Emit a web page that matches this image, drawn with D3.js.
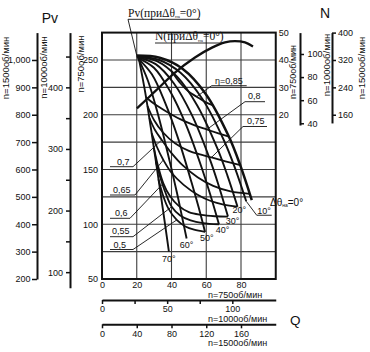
<!DOCTYPE html>
<html>
<head>
<meta charset="utf-8">
<script src="https://cdn.jsdelivr.net/npm/d3@7"></script>
<style>
  body { margin: 0; background: #fff; }
  svg { display: block; }
</style>
</head>
<body>
<div id="chart"></div>
<script>
// ---- data (Q, Pv and N read for n = 750 об/мин) ----
const qTicks750 = [0, 20, 40, 60, 80];
const qTicks1000 = [0, 25, 50, 75, 100];
const qLabels1000 = [0, 50, 100];
const qTicks1500 = [0, 40, 80, 120, 160];
const pvTicks750 = [50, 100, 150, 200, 250];
const pvTicks1000 = [100, 150, 200, 250, 300, 350, 400, 450];
const pvLabels1000 = [100, 200, 300, 400];
const pvTicks1500 = [200, 300, 400, 500, 600, 700, 800, 900, 1000];
const nTicks750 = [20, 30, 40, 50];
const nTicks1000 = [40, 60, 80, 100];
const nTicks1500 = [160, 240, 320, 400];
const gridQ = [20, 40, 60, 80];
const gridPv = [75, 100, 125, 150, 175, 200, 225, 250];

// pressure curves [Q, Pv] for guide vane angles
const angles = [0, 10, 20, 30, 40, 50, 60, 70];
const pv0 = [[20, 254], [33.2, 252], [46.5, 241.8], [59.7, 219], [73, 180.1], [79.6, 153.7], [86.2, 122]];
const pv10 = [[20, 253.5], [32.6, 250.2], [45.2, 238.3], [57.8, 214.3], [70.4, 175.8], [76.7, 150.6], [83, 121]];
const pv20 = [[20, 253], [31.6, 249], [43.2, 234.8], [54.8, 208.5], [66.4, 169.2], [72.2, 144.4], [78, 116]];
const pv30 = [[20.3, 252.5], [30.9, 246.2], [41.3, 228.8], [51.7, 199.8], [62.1, 159.2], [67.3, 134.5], [72.5, 107]];
const pv40 = [[20.5, 252], [29.9, 242.9], [39.2, 221.4], [48.6, 189.8], [57.9, 149.1], [62.6, 125.5], [67.3, 100]];
const pv50 = [[20.7, 251.5], [28.7, 236.9], [36.3, 211], [44, 177.5], [51.6, 137.9], [55.5, 116.1], [59.3, 93]];
const pv60 = [[21, 251], [26.5, 230.8], [32.1, 201.1], [37.6, 166.5], [43.2, 128.3], [45.9, 108], [48.7, 87]];
const pv70 = [[21.3, 250.5], [24.9, 220.2], [28.3, 186.1], [31.7, 150.2], [35.1, 113.1], [36.8, 94.1], [38.5, 75]];
const pvCurves = [pv0, pv10, pv20, pv30, pv40, pv50, pv60, pv70];

// power curve [Q, N] at Δθ = 0°
const nCurve = [[20.1, 22.3], [30.5, 28.5], [42, 35.4], [53.5, 40.9], [63.3, 44.5], [70.8, 46.4], [76.5, 46.9], [82.3, 46.4], [86.9, 44.9]];

// efficiency contours [Q, Pv]
const eta085 = [[40, 240], [45, 229], [50, 221], [54.5, 216.5], [59, 212], [64, 208.4]];
const eta080 = [[25.3, 216], [30, 210], [37, 203], [45, 196], [53, 190.5], [60.3, 186.5], [67, 183], [73, 180]];
const eta075 = [[26.2, 208], [30, 195], [35, 184], [42, 174], [50, 167], [57, 163.5], [63, 161], [71, 157.5], [79.6, 154]];
const eta070 = [[27.3, 197], [30.5, 186], [34.4, 177], [40, 165], [47, 153], [55, 143], [64, 135], [74, 130], [85, 127.8]];
const eta065 = [[28.6, 183], [31.5, 171], [35.3, 158.7], [40, 147], [47, 136], [55, 127], [63, 121], [70, 118], [78, 116]];
const eta060 = [[29.8, 170], [32.3, 153], [35.3, 137.4], [39, 126], [44, 117], [50, 111], [57, 108.5], [65, 107.3], [72.5, 107]];
const eta055 = [[31, 157], [33.5, 143], [36.5, 129], [40.1, 116], [45, 108], [51, 103.5], [58, 101], [67.3, 100]];
const eta050 = [[32.5, 141], [35, 127], [38, 115], [43, 103.9], [48, 98], [53, 95], [59.3, 93]];
const etaCurves = [eta085, eta080, eta075, eta070, eta065, eta060, eta055, eta050];

// ---- layout ----
const W = 370, H = 352;
const FONT = "'Liberation Sans', Arial, sans-serif";
const SERIF = "'Liberation Serif', 'Times New Roman', serif";
const box = { x0: 102, x1: 275.75, y0: 32.6, y1: 279 };
const k = 1000 / 750;

const x = d3.scaleLinear().domain([0, 100]).range([box.x0, box.x1]);
const y = d3.scaleLinear().domain([50, 275]).range([box.y1, box.y0]);
const yN = d3.scaleLinear().domain([0, 50]).range([y(150), y(275)]);

// other speeds: Q ~ n, Pv ~ n^2, N ~ n^3
const q1000 = d3.scaleLinear().domain([0, 100 * k]).range([box.x0, box.x1]);
const q1500 = d3.scaleLinear().domain([0, 200]).range([box.x0, box.x1]);
const pv1000 = d3.scaleLinear().domain([42 * k * k, 275 * k * k]).range([y(42), y(275)]);
const pv1500 = d3.scaleLinear().domain([200, 1100]).range([y(50), y(275)]);
const n1000 = d3.scaleLinear().domain([16.25 * k * k * k, 50 * k * k * k]).range([yN(16.25), yN(50)]);
const n1500 = d3.scaleLinear().domain([136, 400]).range([yN(17), yN(50)]);

const svg = d3.select("#chart").append("svg")
  .attr("width", W).attr("height", H)
  .style("background", "#fff");

// grid and frame
const grid = svg.append("g").attr("stroke", "#3c3c3c").attr("stroke-width", 1.1);
grid.selectAll(".gv").data(gridQ).enter().append("line")
  .attr("x1", d => x(d)).attr("x2", d => x(d))
  .attr("y1", box.y0).attr("y2", box.y1);
grid.selectAll(".gh").data(gridPv).enter().append("line")
  .attr("x1", box.x0).attr("x2", box.x1)
  .attr("y1", d => y(d)).attr("y2", d => y(d));

svg.append("rect")
  .attr("x", box.x0).attr("y", box.y0)
  .attr("width", box.x1 - box.x0).attr("height", box.y1 - box.y0)
  .attr("fill", "none").attr("stroke", "#111").attr("stroke-width", 2);

// axes helper
function styleAxis(g, hideDomain) {
  g.attr("font-family", FONT).attr("font-size", 9);
  g.selectAll("text").attr("fill", "#111");
  g.selectAll(".tick line").attr("stroke", "#111").attr("stroke-width", 1.5);
  if (hideDomain) g.select(".domain").remove();
  else g.select(".domain").attr("stroke", "#111").attr("stroke-width", 2);
}

// left Pv axes
svg.append("g").attr("transform", "translate(37,0)")
  .call(d3.axisLeft(pv1500).tickValues(pvTicks1500).tickSize(5).tickSizeOuter(0).tickPadding(1.5))
  .call(g => styleAxis(g, false));
svg.append("g").attr("transform", "translate(70,0)")
  .call(d3.axisLeft(pv1000).tickValues(pvTicks1000).tickSize(4).tickSizeOuter(0).tickPadding(3)
    .tickFormat(d => pvLabels1000.includes(d) ? d : ""))
  .call(g => styleAxis(g, false));
svg.append("g").attr("transform", `translate(${box.x0},0)`)
  .call(d3.axisLeft(y).tickValues(pvTicks750).tickSize(0).tickPadding(4))
  .call(g => styleAxis(g, true));

// right N axes
svg.append("g").attr("transform", `translate(${box.x1},0)`)
  .call(d3.axisRight(yN).tickValues(nTicks750).tickSize(0).tickPadding(3))
  .call(g => styleAxis(g, true));
svg.append("g").attr("transform", "translate(300,0)")
  .call(d3.axisRight(n1000).tickValues(nTicks1000).tickSize(4).tickSizeOuter(0).tickPadding(3.5))
  .call(g => styleAxis(g, false));
svg.append("g").attr("transform", "translate(332,0)")
  .call(d3.axisRight(n1500).tickValues(nTicks1500).tickSize(4).tickSizeOuter(0).tickPadding(2))
  .call(g => styleAxis(g, false));

// bottom Q axes
svg.append("g").attr("transform", `translate(0,${box.y1})`)
  .call(d3.axisBottom(x).tickValues(qTicks750).tickSize(0).tickPadding(3))
  .call(g => styleAxis(g, true));
svg.append("g").attr("transform", "translate(0,300)")
  .call(d3.axisBottom(q1000).tickValues(qTicks1000).tickSize(4).tickSizeOuter(0).tickPadding(2)
    .tickFormat(d => qLabels1000.includes(d) ? d : ""))
  .call(g => styleAxis(g, false));
svg.append("g").attr("transform", "translate(0,324.3)")
  .call(d3.axisBottom(q1500).tickValues(qTicks1500).tickSize(4).tickSizeOuter(0).tickPadding(2))
  .call(g => styleAxis(g, false));

// ---- curves ----
const linePv = d3.line().x(d => x(d[0])).y(d => y(d[1])).curve(d3.curveCatmullRom.alpha(0.5));
const lineN = d3.line().x(d => x(d[0])).y(d => yN(d[1])).curve(d3.curveCatmullRom.alpha(0.5));

svg.append("g").selectAll("path").data(etaCurves).enter().append("path")
  .attr("d", linePv).attr("fill", "none").attr("stroke", "#111").attr("stroke-width", 1.8);

svg.append("g").selectAll("path").data(pvCurves).enter().append("path")
  .attr("d", linePv).attr("fill", "none").attr("stroke", "#111")
  .attr("stroke-width", (d, i) => i === 0 ? 2.5 : 1.9);

svg.append("path").datum(nCurve).attr("d", lineN)
  .attr("fill", "none").attr("stroke", "#111").attr("stroke-width", 2.3);

// ---- text ----
function txt(xp, yp, s, size, family, anchor) {
  return svg.append("text").attr("x", xp).attr("y", yp)
    .attr("font-family", family || FONT).attr("font-size", size)
    .attr("text-anchor", anchor || "start").attr("fill", "#111").text(s);
}
function vtxt(xp, yp, s, size) {
  svg.append("text").attr("transform", `translate(${xp},${yp}) rotate(-90)`)
    .attr("font-family", FONT).attr("font-size", size)
    .attr("text-anchor", "middle").attr("fill", "#111").text(s);
}
function seg(x1, y1, x2, y2, w) {
  svg.append("line").attr("x1", x1).attr("y1", y1).attr("x2", x2).attr("y2", y2)
    .attr("stroke", "#111").attr("stroke-width", w || 0.9);
}
function withSub(t, pre, sub, post) {
  t.text(null);
  t.append("tspan").text(pre);
  t.append("tspan").attr("font-size", 5).attr("dy", 1.5).text(sub);
  t.append("tspan").attr("dy", -1.5).text(post);
}

txt(41.7, 23, "Pv", 14);
txt(320, 18, "N", 14);
txt(290, 325, "Q", 13.5);

vtxt(8.5, 68, "n=1500об/мин", 9.5);
vtxt(47, 67.5, "n=1000об/мин", 9.5);
vtxt(84, 64, "n=750об/мин", 9.5);
vtxt(296, 72, "n=750об/мин", 9);
vtxt(329.5, 65, "n=1000об/мин", 9.5);
vtxt(365, 68, "n=1500об/мин", 9.5);

txt(208, 298.3, "n=750об/мин", 9);
txt(208, 322, "n=1000об/мин", 9);
txt(208, 346, "n=1500об/мин", 9);

// curve captions at the top
withSub(txt(128, 16.8, "", 11.5, SERIF), "Pv(приΔθ", "на", "=0°)");
seg(128, 19.3, 200, 19.3);
seg(128, 19.3, x(pv0[0][0]), y(pv0[0][1]));
withSub(txt(155, 40, "", 11.5, SERIF), "N(приΔθ", "на", "=0°)");
seg(155, 43, 223, 43);

// angle labels at curve ends
const angleOffsets = [null, null, [1.8, 6.6], [4.7, 7.3], [3.6, 8.3], [1.7, 9], [0, 9.5], [0, 10]];
pvCurves.forEach((c, i) => {
  const off = angleOffsets[i];
  if (!off) return;
  const e = c[c.length - 1];
  txt(x(e[0]) + off[0], y(e[1]) + off[1], angles[i] + "°", 9, FONT, "middle");
});
{
  const e = pv10[pv10.length - 1];
  const ex = x(e[0]), ey = y(e[1]);
  seg(ex, ey, ex + 10.5, ey + 14);
  seg(ex + 10.5, ey + 14, ex + 25.5, ey + 14);
  txt(ex + 17.8, ey + 12.3, angles[1] + "°", 9, FONT, "middle");
  const z = pv0[pv0.length - 1];
  withSub(txt(x(z[0]) + 18.2, y(z[1]) + 5.6, "", 10), "Δθ", "на", "=" + angles[0] + "°");
}

// efficiency labels with leaders
const etaNotes = [
  { text: "η=0,85", curve: eta085, at: 3, tx: 215, ty: 83.5, u: [211.7, 246.7, 85.7], left: false },
  { text: "0,8", curve: eta080, at: 5, tx: 248, ty: 99, u: [245, 265, 101.7], left: false },
  { text: "0,75", curve: eta075, at: 6, tx: 247, ty: 123.5, u: [243, 267, 126.5], left: false },
  { text: "0,7", curve: eta070, at: 2, tx: 117, ty: 164.5, u: [110, 133, 166.7], left: true },
  { text: "0,65", curve: eta065, at: 2, tx: 113, ty: 192.5, u: [110, 135, 195], left: true },
  { text: "0,6", curve: eta060, at: 2, tx: 115, ty: 215.5, u: [110, 130, 218.3], left: true },
  { text: "0,55", curve: eta055, at: 3, tx: 112, ty: 234, u: [110, 133, 236.7], left: true },
  { text: "0,5", curve: eta050, at: 3, tx: 113.5, ty: 247.5, u: [110, 133, 249.5], left: true }
];
etaNotes.forEach(n => {
  txt(n.tx, n.ty, n.text, 9);
  seg(n.u[0], n.u[2], n.u[1], n.u[2]);
  const p = n.curve[n.at];
  const sx = n.left ? n.u[1] : n.u[0];
  seg(sx, n.u[2], x(p[0]), y(p[1]));
});
</script>
</body>
</html>
